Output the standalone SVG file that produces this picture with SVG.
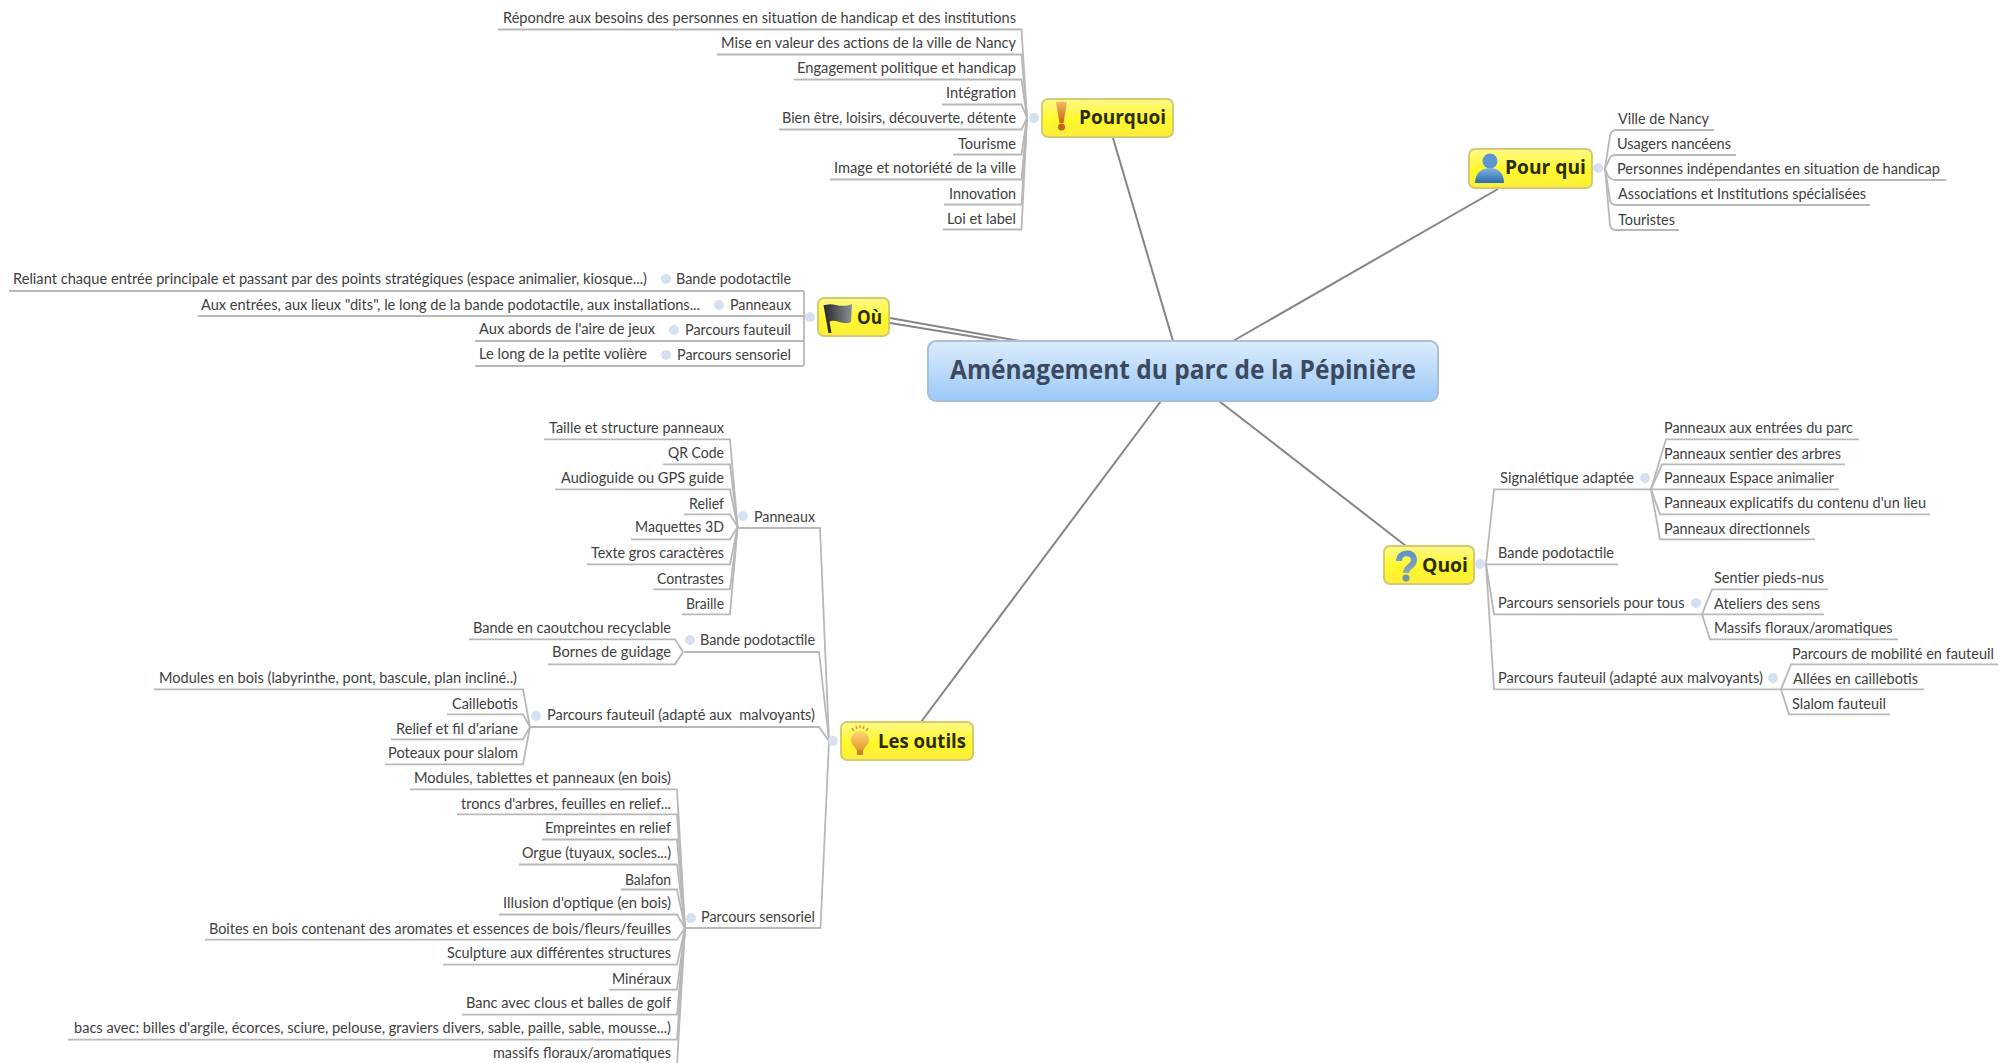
<svg xmlns="http://www.w3.org/2000/svg" width="2010" height="1063" viewBox="0 0 2010 1063">
<style>
text{font-family:"Lato","Liberation Sans",sans-serif;font-size:14.5px;fill:#404040}
.t{font-family:"Open Sans","Liberation Sans",sans-serif;font-weight:700;font-size:20px;fill:#2b2b10}
.c{font-family:"Open Sans","Liberation Sans",sans-serif;font-weight:700;font-size:27px;fill:#3b4a5e}
.box{fill:url(#y);stroke:#d6ca6e;stroke-width:2}
.spoke{fill:none;stroke:#858585;stroke-width:2}
.e{fill:none;stroke:#b8b8b8;stroke-width:1.8}
.d{fill:#d5e0f0}
</style>
<defs>
<linearGradient id="y" x1="0" y1="0" x2="0" y2="1"><stop offset="0" stop-color="#fdf98a"/><stop offset=".55" stop-color="#fff82a"/><stop offset="1" stop-color="#fbee3c"/></linearGradient>
<linearGradient id="b" x1="0" y1="0" x2="0" y2="1"><stop offset="0" stop-color="#dcecfc"/><stop offset="1" stop-color="#9cc9f7"/></linearGradient>
<linearGradient id="o" x1="0" y1="0" x2="0" y2="1"><stop offset="0" stop-color="#f5b860"/><stop offset="1" stop-color="#c8601f"/></linearGradient>
<linearGradient id="f" x1="0" y1="0" x2="1" y2="0"><stop offset="0" stop-color="#2e3033"/><stop offset="1" stop-color="#8b9096"/></linearGradient>
<linearGradient id="u" x1="0" y1="0" x2="0" y2="1"><stop offset="0" stop-color="#7fb2e6"/><stop offset="1" stop-color="#2c6cab"/></linearGradient>
<linearGradient id="l" x1="0" y1="0" x2="0" y2="1"><stop offset="0" stop-color="#fbd777"/><stop offset="1" stop-color="#e89a2e"/></linearGradient>
<linearGradient id="q" x1="0" y1="0" x2="0" y2="1"><stop offset="0" stop-color="#5f93c8"/><stop offset="1" stop-color="#8fa7b8"/></linearGradient>
</defs>

<g id="connectors">
<path class="spoke" d="M1113,138L1173,341"/>
<path class="spoke" d="M1498,189L1233,341"/>
<path class="spoke" d="M1406,546L1219,401"/>
<path class="spoke" d="M921,722L1161,401"/>
<path class="spoke" d="M890,318L1020,341"/>
<path class="spoke" d="M890,323L1000,341"/>

<path class="e" d="M498,29.5H1021.5L1027,118"/>
<path class="e" d="M717,54.5H1021.5L1027,118"/>
<path class="e" d="M794,79.5H1021.5L1027,118"/>
<path class="e" d="M942,104.5H1021.5L1027,118"/>
<path class="e" d="M779,129.5H1021.5L1027,118"/>
<path class="e" d="M953,154.5H1021.5L1027,118"/>
<path class="e" d="M830,179.5H1021.5L1027,118"/>
<path class="e" d="M944,204.5H1021.5L1027,118"/>
<path class="e" d="M943,229.5H1021.5L1027,118"/>

<path class="e" d="M9,291H802Q804,291 804,293V316H811"/>
<path class="e" d="M198,316H804"/>
<path class="e" d="M475,341H804"/>
<path class="e" d="M475,366H802Q804,366 804,364V316"/>

<path class="e" d="M739,528H820L829,741"/>
<path class="e" d="M684,652H819L829,741"/>
<path class="e" d="M530,727H819L829,741"/>
<path class="e" d="M686,928H820.5L829,741"/>

<path class="e" d="M544,439.3H730L737.6,527"/>
<path class="e" d="M663,464.3H730L737.6,527"/>
<path class="e" d="M555,489.3H730L737.6,527"/>
<path class="e" d="M684,514.3H730L737.6,527"/>
<path class="e" d="M631,539.3H730L737.6,527"/>
<path class="e" d="M587,564.3H730L737.6,527"/>
<path class="e" d="M653,589.3H730L737.6,527"/>
<path class="e" d="M682,614.3H730L737.6,527"/>

<path class="e" d="M469,639.3H675L683,652"/>
<path class="e" d="M548,664.3H675L683,652"/>

<path class="e" d="M154,689.3H523L530,727"/>
<path class="e" d="M447,714.3H523L530,727"/>
<path class="e" d="M391,739.3H523L530,727"/>
<path class="e" d="M385,764.3H523L530,727"/>

<path class="e" d="M410,789.3H677L685,928"/>
<path class="e" d="M457,814.3H677L685,928"/>
<path class="e" d="M542,839.5H677L685,928"/>
<path class="e" d="M519,864.5H677L685,928"/>
<path class="e" d="M621,889.5H677L685,928"/>
<path class="e" d="M499,914.5H677L685,928"/>
<path class="e" d="M205,939.7H677L685,928"/>
<path class="e" d="M443,964.7H677L685,928"/>
<path class="e" d="M609,989.7H677L685,928"/>
<path class="e" d="M462,1014.7H677L685,928"/>
<path class="e" d="M68,1039.7H677L685,928"/>
<path class="e" d="M488,1065H677L685,928"/>

<path class="e" d="M1714,130H1616Q1611,130 1610,136L1605,168"/>
<path class="e" d="M1736,155H1616Q1611,155 1610,158L1605,168"/>
<path class="e" d="M1946,180H1616Q1611,180 1608,176L1605,168"/>
<path class="e" d="M1870,205H1616Q1611,205 1610,200L1605,168"/>
<path class="e" d="M1679,230H1616Q1611,230 1610,225L1605,168"/>

<path class="e" d="M1651,489.3H1494L1486,564"/>
<path class="e" d="M1618,564.3H1486"/>
<path class="e" d="M1702,614.3H1494L1486,564"/>
<path class="e" d="M1781,689.3H1494L1486,564"/>

<path class="e" d="M1859,439.3H1666L1651,489.3"/>
<path class="e" d="M1845,464.3H1662L1651,489.3"/>
<path class="e" d="M1839,489.3H1651"/>
<path class="e" d="M1930,514.3H1660L1651,489.3"/>
<path class="e" d="M1815,539.3H1660L1651,489.3"/>

<path class="e" d="M1828,589.3H1712L1702,614.3"/>
<path class="e" d="M1824,614.3H1702"/>
<path class="e" d="M1898,639.3H1710L1702,614.3"/>

<path class="e" d="M1998,664.3H1791L1781,689.3"/>
<path class="e" d="M1924,689.3H1781"/>
<path class="e" d="M1890,714.3H1789L1781,689.3"/>
</g>

<g id="dots">
<circle class="d" cx="1034" cy="118" r="5"/>
<circle class="d" cx="810" cy="317" r="5"/>
<circle class="d" cx="666" cy="279" r="5"/>
<circle class="d" cx="719" cy="305" r="5"/>
<circle class="d" cx="674" cy="330" r="5"/>
<circle class="d" cx="666" cy="355" r="5"/>
<circle class="d" cx="833" cy="741" r="5"/>
<circle class="d" cx="743" cy="516" r="5"/>
<circle class="d" cx="690" cy="640" r="5"/>
<circle class="d" cx="536" cy="716" r="5"/>
<circle class="d" cx="691" cy="918" r="5"/>
<circle class="d" cx="1598" cy="168" r="5"/>
<circle class="d" cx="1480" cy="564" r="5"/>
<circle class="d" cx="1645" cy="478" r="5"/>
<circle class="d" cx="1696" cy="603" r="5"/>
<circle class="d" cx="1773" cy="678" r="5"/>
</g>

<g id="root"><rect x="928" y="341" width="510" height="60" rx="8" fill="url(#b)" stroke="#a9bfd6" stroke-width="2"/><text class="c" x="950" y="379" textLength="466" lengthAdjust="spacingAndGlyphs">Aménagement du parc de la Pépinière</text></g>

<g id="pourquoi"><rect class="box" x="1042" y="99" width="131" height="38" rx="6"/><path d="M1056,102L1067,102L1063.5,123L1059.5,123Z" fill="url(#o)"/><circle cx="1061.500" cy="127" r="3.5" fill="#c8601f"/><text class="t" x="1079" y="124" textLength="87" lengthAdjust="spacingAndGlyphs">Pourquoi</text></g>
<g id="ou"><rect class="box" x="818" y="298" width="71" height="38" rx="6"/><path d="M825,305L830,333" stroke="#2e3033" stroke-width="3" fill="none"/><path d="M826,305C833,302 841,309 852,304L851,322C843,326 835,318 829,322Z" fill="url(#f)"/><text class="t" x="857" y="324" textLength="25" lengthAdjust="spacingAndGlyphs">Où</text></g>
<g id="pourqui"><rect class="box" x="1469" y="149" width="123" height="39" rx="6"/><circle cx="1490" cy="161" r="7.500" fill="#5c97d4"/><path d="M1475,183C1475,173 1482,168 1490,168C1498,168 1504,173 1504,183Z" fill="url(#u)"/><text class="t" x="1505" y="174" textLength="81" lengthAdjust="spacingAndGlyphs">Pour qui</text></g>
<g id="quoi"><rect class="box" x="1384" y="546" width="90" height="38" rx="6"/><path d="M1399,561C1399,551 1414,551 1414,560C1414,567 1406,566 1406,573" fill="none" stroke="url(#q)" stroke-width="6"/><circle cx="1406" cy="578" r="3.500" fill="#6f93b0"/><text class="t" x="1422" y="572" textLength="46" lengthAdjust="spacingAndGlyphs">Quoi</text></g>
<g id="lesoutils"><rect class="box" x="841" y="722" width="132" height="38" rx="6"/><path d="M851,740a9,9 0 1 1 18,0c0,6 -5,6 -5,10h-8c0,-4 -5,-4 -5,-10Z" fill="url(#l)"/><rect x="857" y="750" width="6" height="5" fill="#c9873a"/><path d="M852,728l2,3M856,726l1,3M860,725v3M864,726l-1,3M868,728l-2,3" stroke="#d69a3a" stroke-width="1.5" fill="none"/><text class="t" x="878" y="748" textLength="88" lengthAdjust="spacingAndGlyphs">Les outils</text></g>

<g id="pq1"><text x="503" y="22.5" textLength="513" lengthAdjust="spacingAndGlyphs">Répondre aux besoins des personnes en situation de handicap et des institutions</text></g>
<g id="pq2"><text x="721" y="47.5" textLength="295" lengthAdjust="spacingAndGlyphs">Mise en valeur des actions de la ville de Nancy</text></g>
<g id="pq3"><text x="797" y="72.5" textLength="219" lengthAdjust="spacingAndGlyphs">Engagement politique et handicap</text></g>
<g id="pq4"><text x="946" y="97.5" textLength="70" lengthAdjust="spacingAndGlyphs">Intégration</text></g>
<g id="pq5"><text x="782" y="123" textLength="234" lengthAdjust="spacingAndGlyphs">Bien être, loisirs, découverte, détente</text></g>
<g id="pq6"><text x="958" y="148.500" textLength="58" lengthAdjust="spacingAndGlyphs">Tourisme</text></g>
<g id="pq7"><text x="834" y="173" textLength="182" lengthAdjust="spacingAndGlyphs">Image et notoriété de la ville</text></g>
<g id="pq8"><text x="949" y="198.500" textLength="67" lengthAdjust="spacingAndGlyphs">Innovation</text></g>
<g id="pq9"><text x="947" y="224" textLength="69" lengthAdjust="spacingAndGlyphs">Loi et label</text></g>

<g id="ou1a"><text x="676" y="284" textLength="115" lengthAdjust="spacingAndGlyphs">Bande podotactile</text></g>
<g id="ou1b"><text x="13" y="284" textLength="634" lengthAdjust="spacingAndGlyphs">Reliant chaque entrée principale et passant par des points stratégiques (espace animalier, kiosque...)</text></g>
<g id="ou2a"><text x="730" y="310" textLength="61" lengthAdjust="spacingAndGlyphs">Panneaux</text></g>
<g id="ou2b"><text x="201" y="309.5" textLength="499" lengthAdjust="spacingAndGlyphs">Aux entrées, aux lieux "dits", le long de la bande podotactile, aux installations...</text></g>
<g id="ou3a"><text x="685" y="335" textLength="106" lengthAdjust="spacingAndGlyphs">Parcours fauteuil</text></g>
<g id="ou3b"><text x="479" y="334" textLength="176" lengthAdjust="spacingAndGlyphs">Aux abords de l'aire de jeux</text></g>
<g id="ou4a"><text x="677" y="360" textLength="114" lengthAdjust="spacingAndGlyphs">Parcours sensoriel</text></g>
<g id="ou4b"><text x="479" y="359" textLength="168" lengthAdjust="spacingAndGlyphs">Le long de la petite volière</text></g>

<g id="lo1"><text x="754" y="521.5" textLength="61" lengthAdjust="spacingAndGlyphs">Panneaux</text></g>
<g id="lo2"><text x="700" y="645" textLength="115" lengthAdjust="spacingAndGlyphs">Bande podotactile</text></g>
<g id="lo3"><text x="547" y="720" textLength="268" lengthAdjust="spacingAndGlyphs" xml:space="preserve">Parcours fauteuil (adapté aux  malvoyants)</text></g>
<g id="lo4"><text x="701" y="922" textLength="114" lengthAdjust="spacingAndGlyphs">Parcours sensoriel</text></g>

<g id="pa1"><text x="549" y="432.5" textLength="175" lengthAdjust="spacingAndGlyphs">Taille et structure panneaux</text></g>
<g id="pa2"><text x="668" y="457.5" textLength="56" lengthAdjust="spacingAndGlyphs">QR Code</text></g>
<g id="pa3"><text x="561" y="482.5" textLength="163" lengthAdjust="spacingAndGlyphs">Audioguide ou GPS guide</text></g>
<g id="pa4"><text x="689" y="509" textLength="35" lengthAdjust="spacingAndGlyphs">Relief</text></g>
<g id="pa5"><text x="635" y="532" textLength="89" lengthAdjust="spacingAndGlyphs">Maquettes 3D</text></g>
<g id="pa6"><text x="591" y="557.5" textLength="133" lengthAdjust="spacingAndGlyphs">Texte gros caractères</text></g>
<g id="pa7"><text x="657" y="584" textLength="67" lengthAdjust="spacingAndGlyphs">Contrastes</text></g>
<g id="pa8"><text x="686" y="609" textLength="38" lengthAdjust="spacingAndGlyphs">Braille</text></g>

<g id="ba1"><text x="473" y="632.5" textLength="198" lengthAdjust="spacingAndGlyphs">Bande en caoutchou recyclable</text></g>
<g id="ba2"><text x="552" y="657" textLength="119" lengthAdjust="spacingAndGlyphs">Bornes de guidage</text></g>

<g id="fa1"><text x="159" y="683" textLength="358" lengthAdjust="spacingAndGlyphs">Modules en bois (labyrinthe, pont, bascule, plan incliné..)</text></g>
<g id="fa2"><text x="452" y="709" textLength="66" lengthAdjust="spacingAndGlyphs">Caillebotis</text></g>
<g id="fa3"><text x="396" y="734" textLength="122" lengthAdjust="spacingAndGlyphs">Relief et fil d'ariane</text></g>
<g id="fa4"><text x="388" y="758" textLength="130" lengthAdjust="spacingAndGlyphs">Poteaux pour slalom</text></g>

<g id="se1"><text x="414" y="782.5" textLength="257" lengthAdjust="spacingAndGlyphs">Modules, tablettes et panneaux (en bois)</text></g>
<g id="se2"><text x="461" y="808.5" textLength="210" lengthAdjust="spacingAndGlyphs">troncs d'arbres, feuilles en relief...</text></g>
<g id="se3"><text x="545" y="833" textLength="126" lengthAdjust="spacingAndGlyphs">Empreintes en relief</text></g>
<g id="se4"><text x="522" y="858" textLength="149" lengthAdjust="spacingAndGlyphs">Orgue (tuyaux, socles...)</text></g>
<g id="se5"><text x="625" y="884.5" textLength="46" lengthAdjust="spacingAndGlyphs">Balafon</text></g>
<g id="se6"><text x="503" y="908" textLength="168" lengthAdjust="spacingAndGlyphs">Illusion d'optique (en bois)</text></g>
<g id="se7"><text x="209" y="934" textLength="462" lengthAdjust="spacingAndGlyphs">Boites en bois contenant des aromates et essences de bois/fleurs/feuilles</text></g>
<g id="se8"><text x="447" y="958" textLength="224" lengthAdjust="spacingAndGlyphs">Sculpture aux différentes structures</text></g>
<g id="se9"><text x="612" y="984" textLength="59" lengthAdjust="spacingAndGlyphs">Minéraux</text></g>
<g id="se10"><text x="466" y="1008" textLength="205" lengthAdjust="spacingAndGlyphs">Banc avec clous et balles de golf</text></g>
<g id="se11"><text x="74" y="1033" textLength="597" lengthAdjust="spacingAndGlyphs">bacs avec: billes d'argile, écorces, sciure, pelouse, graviers divers, sable, paille, sable, mousse...)</text></g>
<g id="se12"><text x="493" y="1058" textLength="178" lengthAdjust="spacingAndGlyphs">massifs floraux/aromatiques</text></g>

<g id="pq-1"><text x="1618" y="123.5" textLength="91" lengthAdjust="spacingAndGlyphs">Ville de Nancy</text></g>
<g id="pq-2"><text x="1617" y="148.5" textLength="114" lengthAdjust="spacingAndGlyphs">Usagers nancéens</text></g>
<g id="pq-3"><text x="1617" y="173.5" textLength="323" lengthAdjust="spacingAndGlyphs">Personnes indépendantes en situation de handicap</text></g>
<g id="pq-4"><text x="1618" y="198.5" textLength="248" lengthAdjust="spacingAndGlyphs">Associations et Institutions spécialisées</text></g>
<g id="pq-5"><text x="1618" y="225" textLength="57" lengthAdjust="spacingAndGlyphs">Touristes</text></g>

<g id="qu1"><text x="1500" y="482.5" textLength="134" lengthAdjust="spacingAndGlyphs">Signalétique adaptée</text></g>
<g id="qu2"><text x="1498" y="557.5" textLength="116" lengthAdjust="spacingAndGlyphs">Bande podotactile</text></g>
<g id="qu3"><text x="1498" y="607.5" textLength="186.500" lengthAdjust="spacingAndGlyphs">Parcours sensoriels pour tous</text></g>
<g id="qu4"><text x="1498" y="682.5" textLength="265" lengthAdjust="spacingAndGlyphs">Parcours fauteuil (adapté aux malvoyants)</text></g>

<g id="si1"><text x="1664" y="432.5" textLength="189" lengthAdjust="spacingAndGlyphs">Panneaux aux entrées du parc</text></g>
<g id="si2"><text x="1664" y="458.500" textLength="177" lengthAdjust="spacingAndGlyphs">Panneaux sentier des arbres</text></g>
<g id="si3"><text x="1664" y="482.5" textLength="170" lengthAdjust="spacingAndGlyphs">Panneaux Espace animalier</text></g>
<g id="si4"><text x="1664" y="507.5" textLength="262" lengthAdjust="spacingAndGlyphs">Panneaux explicatifs du contenu d'un lieu</text></g>
<g id="si5"><text x="1664" y="534" textLength="146" lengthAdjust="spacingAndGlyphs">Panneaux directionnels</text></g>

<g id="sn1"><text x="1714" y="582.5" textLength="110" lengthAdjust="spacingAndGlyphs">Sentier pieds-nus</text></g>
<g id="sn2"><text x="1714" y="609" textLength="106" lengthAdjust="spacingAndGlyphs">Ateliers des sens</text></g>
<g id="sn3"><text x="1714" y="632.5" textLength="178.500" lengthAdjust="spacingAndGlyphs">Massifs floraux/aromatiques</text></g>

<g id="fu1"><text x="1792" y="659" textLength="202" lengthAdjust="spacingAndGlyphs">Parcours de mobilité en fauteuil</text></g>
<g id="fu2"><text x="1793" y="684" textLength="125" lengthAdjust="spacingAndGlyphs">Allées en caillebotis</text></g>
<g id="fu3"><text x="1792" y="709" textLength="94" lengthAdjust="spacingAndGlyphs">Slalom fauteuil</text></g>
</svg>
